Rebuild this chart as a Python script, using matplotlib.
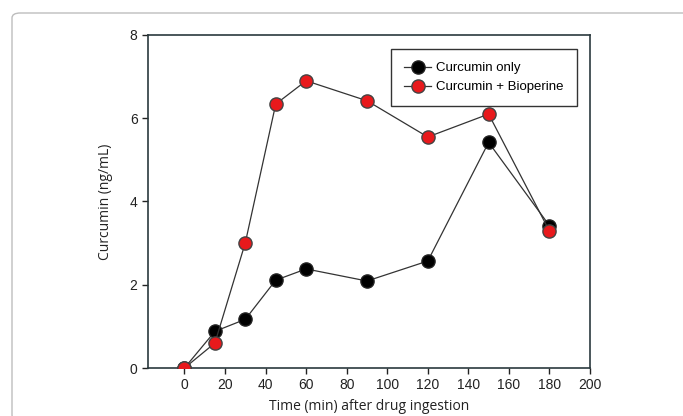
import matplotlib
matplotlib.use("Agg")
import matplotlib.pyplot as plt
from matplotlib.patches import FancyBboxPatch

# sampling times (min) and plasma curcumin (ng/mL)
times = [0, 15, 30, 45, 60, 90, 120, 150, 180]
curcumin_only = [0, 0.88, 1.17, 2.11, 2.38, 2.09, 2.57, 5.42, 3.42]
curcumin_bioperine = [0, 0.60, 3.01, 6.34, 6.90, 6.42, 5.55, 6.10, 3.29]
x_ticks = list(range(0, 201, 20))
y_ticks = [0, 2, 4, 6, 8]

plt.rcParams['font.family'] = ['Liberation Sans', 'DejaVu Sans']

fig = plt.figure(figsize=(6.83, 4.16), dpi=100)

# rounded frame around the figure panel
frame = FancyBboxPatch((12 / 683, 1 - 420 / 416), 700 / 683, 407 / 416,
                       boxstyle="round,pad=0,rounding_size=0.012",
                       transform=fig.transFigure, facecolor='none',
                       edgecolor='#bdbdbd', linewidth=1.0)
fig.patches.append(frame)

ax = fig.add_axes([148 / 683, 1 - 368 / 416, (590 - 148) / 683, (368 - 35) / 416])

ax.plot(times, curcumin_only, color='#333333', linewidth=0.9, marker='o',
        markersize=9.5, markerfacecolor='black', markeredgecolor='#222222',
        label='Curcumin only', zorder=3)
ax.plot(times, curcumin_bioperine, color='#333333', linewidth=0.9, marker='o',
        markersize=9.5, markerfacecolor='#e8191c', markeredgecolor='#444444',
        label='Curcumin + Bioperine', zorder=4)

ax.set_xlim(-18, 200)
ax.set_ylim(0, 8)
ax.set_xticks(x_ticks)
ax.set_yticks(y_ticks)
ax.tick_params(direction='out', length=4, width=1, labelsize=10, colors='#222222')

for s in ax.spines.values():
    s.set_linewidth(1.2)
    s.set_color('#2b3a3e')

ax.set_xlabel("Time (min) after drug ingestion", family=['Open Sans', 'DejaVu Sans'],
              fontsize=10, color='#222222', va='top')
ax.xaxis.set_label_coords(0.5, -0.093)
ax.set_ylabel("Curcumin (ng/mL)", family=['Open Sans', 'DejaVu Sans'],
              fontsize=10, labelpad=12, color='#222222')

leg = ax.legend(loc='upper right', bbox_to_anchor=(0.985, 0.978), fancybox=False,
                framealpha=1, edgecolor='#333333', fontsize=9.5,
                handlelength=2.0, borderpad=1.0, labelspacing=0.5, handletextpad=0.4)
leg.get_frame().set_linewidth(1.0)

fig.savefig("out.png", dpi=100)
